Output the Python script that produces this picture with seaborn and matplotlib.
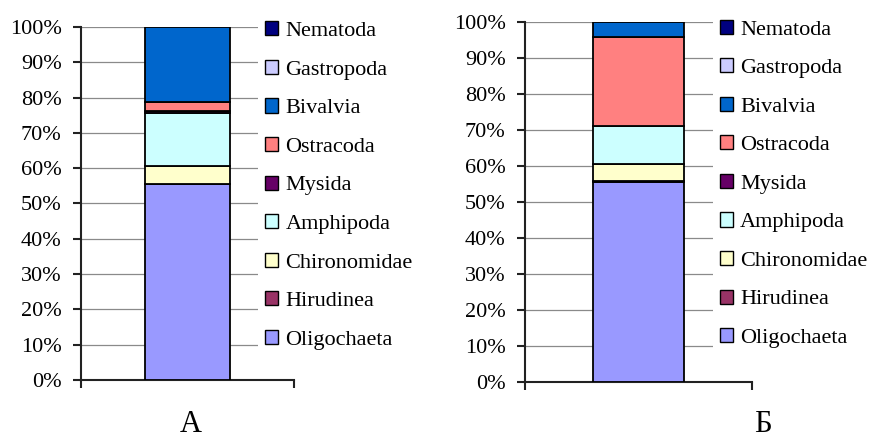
import pandas as pd
import matplotlib.pyplot as plt
import seaborn as sns
from matplotlib.patches import Patch
from matplotlib.ticker import FuncFormatter

# --- data (bottom to top of the stack) ---
taxa = ['Oligochaeta', 'Hirudinea', 'Chironomidae', 'Amphipoda', 'Mysida',
        'Ostracoda', 'Bivalvia', 'Gastropoda', 'Nematoda']
colors = ['#9999FF', '#993366', '#FFFFCC', '#CCFFFF', '#660066',
          '#FF8080', '#0066CC', '#CCCCFF', '#000080']
share_a = [55.4, 0.1, 5.1, 15.0, 0.5, 2.6, 21.3, 0.0, 0.0]
share_b = [55.6, 0.1, 4.9, 10.6, 0.0, 24.6, 4.2, 0.0, 0.0]
panel_labels = ['А', 'Б']

sns.set_style('white')
plt.rcParams['font.family'] = ['Liberation Serif', 'DejaVu Serif']
plt.rcParams['text.color'] = 'black'
plt.rcParams['ytick.labelcolor'] = 'black'

fig = plt.figure(figsize=(8.7, 4.41), dpi=100)
ax_a = fig.add_axes([0.0931, 0.1383, 0.2448, 0.8005])
ax_b = fig.add_axes([0.6034, 0.1331, 0.2609, 0.8177])


def draw_panel(ax, shares, legend_x, legend_y):
    df = pd.DataFrame({'taxon': taxa, 'share': shares, 'color': colors})
    df['bottom'] = df['share'].cumsum() - df['share']
    for _, row in df.iterrows():
        if row['share'] <= 0:
            continue
        sns.barplot(x=[''], y=[row['share']], bottom=row['bottom'],
                    color=row['color'], saturation=1, width=0.4,
                    edgecolor='black', linewidth=1.3, ax=ax, zorder=3)
    ax.set_xlim(-0.5, 0.5)
    ax.set_ylim(0, 100)
    ax.set_yticks(range(0, 101, 10))
    ax.yaxis.set_major_formatter(FuncFormatter(lambda v, p: f'{v:.0f}%'))
    ax.set_xticks([-0.5, 0.5])
    ax.set_xticklabels([])
    ax.set_xlabel('')
    ax.set_ylabel('')
    ax.grid(axis='y', color='#8a8a8a', linewidth=0.9, zorder=0)
    ax.set_axisbelow(True)
    sns.despine(ax=ax)
    for side in ['left', 'bottom']:
        ax.spines[side].set_color('#222222')
        ax.spines[side].set_linewidth(1.5)
    ax.tick_params(axis='y', direction='out', length=6, width=1.5,
                   color='#222222', labelcolor='black', pad=8, labelsize=16,
                   left=True)
    ax.tick_params(axis='x', direction='out', length=6, width=1.5,
                   color='#222222', bottom=True)

    handles = [Patch(facecolor=c, edgecolor='black', linewidth=1.0, label=t)
               for t, c in zip(taxa[::-1], colors[::-1])]
    leg = ax.legend(handles=handles, loc='upper left',
                    bbox_to_anchor=(legend_x, legend_y), borderaxespad=0,
                    frameon=True, facecolor='white', edgecolor='none',
                    framealpha=1, fancybox=False, fontsize=16,
                    borderpad=0.3, handlelength=0.6, handleheight=0.6,
                    handletextpad=0.33, labelspacing=0.84)
    for txt in leg.get_texts():
        txt.set_color('black')
    leg.set_zorder(5)


draw_panel(ax_a, share_a, 0.831, 1.035)
draw_panel(ax_b, share_b, 0.828, 1.024)

fig.text(0.2195, 0.004, panel_labels[0], fontsize=22, ha='center', va='bottom')
fig.text(0.877, 0.004, panel_labels[1], fontsize=22, ha='center', va='bottom')

fig.savefig('out.png', dpi=100)
